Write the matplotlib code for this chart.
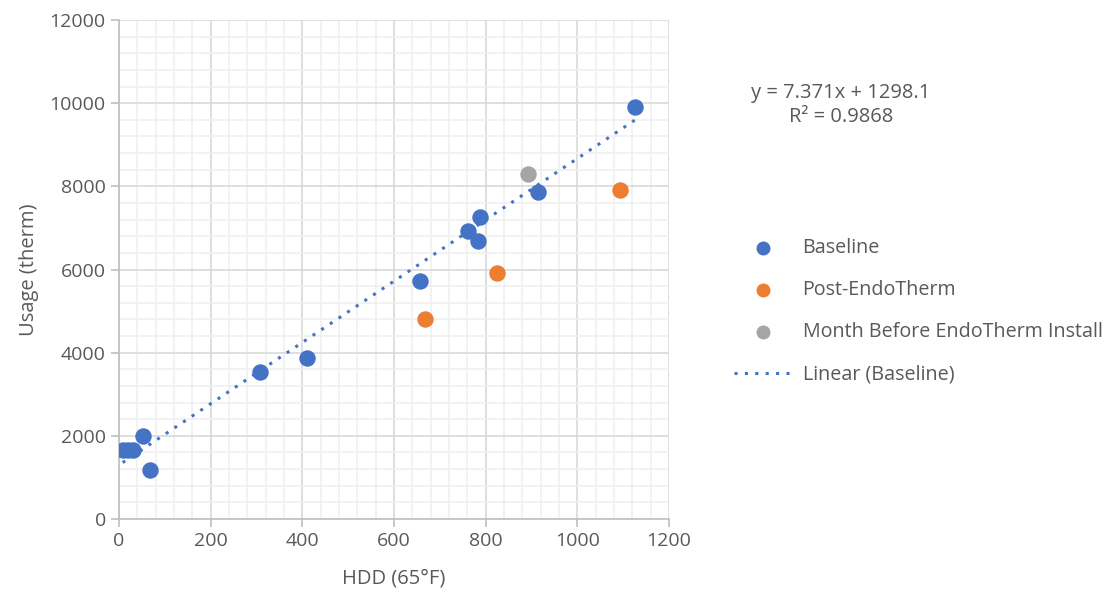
import numpy as np
import matplotlib.pyplot as plt
from matplotlib.ticker import MultipleLocator

# baseline months
base_hdd = [8, 20, 30, 52, 68, 307, 410, 657, 762, 787, 783, 914, 1125]
base_use = [1660, 1670, 1670, 1990, 1190, 3540, 3880, 5720, 6930, 7260, 6690, 7870, 9920]

# after install
post_hdd = [668, 825, 1093]
post_use = [4800, 5920, 7920]

# month before install
pre_hdd = [893]
pre_use = [8300]

slope, intercept = 7.371, 1298.1
r2 = 0.9868

txt = '#595959'
plt.rcParams['font.family'] = ['Open Sans', 'DejaVu Sans']
plt.rcParams['font.size'] = 14

fig = plt.figure(figsize=(11.08, 5.96), dpi=100)
ax = fig.add_axes([0.1074, 0.1292, 0.4964, 0.8372])

ax.scatter(base_hdd, base_use, s=140, color='#4472C4', label='Baseline', zorder=3, linewidths=0)
ax.scatter(post_hdd, post_use, s=140, color='#ED7D31', label='Post-EndoTherm', zorder=3, linewidths=0)
ax.scatter(pre_hdd, pre_use, s=140, color='#A5A5A5', label='Month Before EndoTherm Install', zorder=3, linewidths=0)

xt = np.array([min(base_hdd), max(base_hdd)])
ax.plot(xt, slope * xt + intercept, color='#4472C4', linestyle=(0, (1, 2.4)), lw=2.2,
        label='Linear (Baseline)', zorder=4)

ax.set_xlim(0, 1200)
ax.set_ylim(0, 12000)
ax.xaxis.set_major_locator(MultipleLocator(200))
ax.xaxis.set_minor_locator(MultipleLocator(40))
ax.yaxis.set_major_locator(MultipleLocator(2000))
ax.yaxis.set_minor_locator(MultipleLocator(400))
ax.grid(which='major', color='#d9d9d9', lw=1.2, zorder=0)
ax.grid(which='minor', color='#f0f0f0', lw=1.2, zorder=0)
ax.set_axisbelow(True)

for s in ['top', 'right']:
    ax.spines[s].set_visible(False)
for s in ['left', 'bottom']:
    ax.spines[s].set_color('#bfbfbf')
    ax.spines[s].set_linewidth(1.2)
ax.tick_params(which='major', length=6, color='#bfbfbf', width=1.2, labelcolor=txt, labelsize=14)
ax.tick_params(which='minor', length=0)

ax.set_xlabel('HDD (65°F)', color=txt, fontsize=14.5, labelpad=13)
ax.set_ylabel('Usage (therm)', color=txt, fontsize=14.5, labelpad=8)

fig.text(0.759, 0.824, 'y = 7.371x + 1298.1\nR² = %.4f' % r2, ha='center', va='center',
         color=txt, fontsize=14.5, linespacing=1.3)

leg = fig.legend(loc='upper left', bbox_to_anchor=(0.646, 0.630), frameon=False,
                 fontsize=14.2, labelcolor=txt, handlelength=3.0, handletextpad=0.5,
                 labelspacing=1.12, markerscale=0.85)

fig.savefig('out.png', dpi=100)
